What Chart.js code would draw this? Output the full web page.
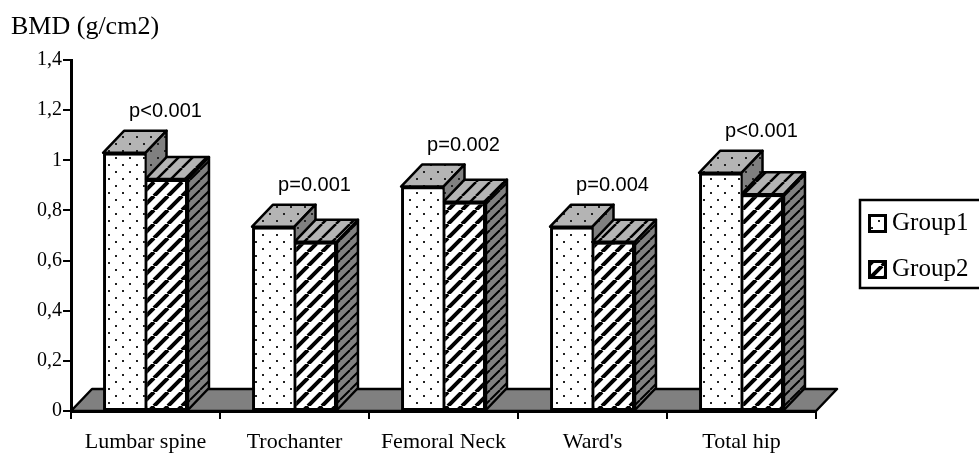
<!DOCTYPE html>
<html>
<head>
<meta charset="utf-8">
<script src="https://cdn.jsdelivr.net/npm/chart.js@4"></script>
<style>
  html, body { margin: 0; padding: 0; background: #fff; }
  canvas { display: block; }
</style>
</head>
<body>
<canvas id="chart" width="979" height="453"></canvas>
<script>
const categories = ["Lumbar spine", "Trochanter", "Femoral Neck", "Ward's", "Total hip"];
const group1 = [1.03, 0.735, 0.895, 0.735, 0.95];
const group2 = [0.925, 0.675, 0.835, 0.675, 0.865];
const pLabels = ["p<0.001", "p=0.001", "p=0.002", "p=0.004", "p<0.001"];
const yTickLabels = ["0", "0,2", "0,4", "0,6", "0,8", "1", "1,2", "1,4"];
const yAxisTitle = "BMD (g/cm2)";

const SERIF = "'Liberation Serif', 'Times New Roman', serif";
const SANS = "'Liberation Sans', Arial, sans-serif";
const DEPTH_X = 21;
const DEPTH_Y = 22;

// dotted tile
function dots(bg) {
  const c = document.createElement("canvas");
  c.width = c.height = 14;
  const g = c.getContext("2d");
  g.fillStyle = bg;
  g.fillRect(0, 0, 14, 14);
  g.fillStyle = "#222";
  g.fillRect(3, 3, 2, 2);
  g.fillRect(10, 10, 2, 2);
  return g.createPattern(c, "repeat");
}

// diagonal hatch tile
function hatch(bg, size, lw) {
  const c = document.createElement("canvas");
  c.width = c.height = size;
  const g = c.getContext("2d");
  g.fillStyle = bg;
  g.fillRect(0, 0, size, size);
  g.strokeStyle = "#000";
  g.lineWidth = lw;
  g.beginPath();
  for (let i = -size; i <= size; i += size) {
    g.moveTo(i, size);
    g.lineTo(i + size, 0);
  }
  g.stroke();
  return g.createPattern(c, "repeat");
}

const faces = [
  { top: dots("#b4b4b4"), side: dots("#808080") },
  { top: hatch("#b4b4b4", 14, 2.5), side: hatch("#808080", 10, 2) },
];

function polygon(ctx, pts, fill) {
  ctx.beginPath();
  pts.forEach((p, i) => (i ? ctx.lineTo(p[0], p[1]) : ctx.moveTo(p[0], p[1])));
  ctx.closePath();
  ctx.fillStyle = fill;
  ctx.fill();
  ctx.stroke();
}

const chart3d = {
  id: "chart3d",
  afterLayout(chart) {
    // legend sits in its own spot right of the plot
    const l = chart.legend;
    l.left = 848.5;
    l.right = 979;
    l.top = 190;
    l.bottom = 340;
  },
  beforeDatasetsDraw(chart) {
    const { ctx, chartArea: a } = chart;
    const y0 = chart.scales.y.getPixelForValue(0);
    ctx.save();
    ctx.strokeStyle = "#000";
    ctx.lineWidth = 2.5;
    ctx.lineJoin = "round";
    polygon(ctx, [
      [a.left, y0],
      [a.left + DEPTH_X, y0 - DEPTH_Y],
      [a.right + DEPTH_X, y0 - DEPTH_Y],
      [a.right, y0],
    ], "#808080");
    // tops and sides, left bar first so the right bar's top covers its side
    faces.forEach((f, d) => {
      chart.getDatasetMeta(d).data.forEach((bar) => {
        const l = bar.x - bar.width / 2;
        const r = bar.x + bar.width / 2;
        polygon(ctx, [
          [l, bar.y],
          [l + DEPTH_X, bar.y - DEPTH_Y],
          [r + DEPTH_X, bar.y - DEPTH_Y],
          [r, bar.y],
        ], f.top);
        polygon(ctx, [
          [r, bar.y],
          [r + DEPTH_X, bar.y - DEPTH_Y],
          [r + DEPTH_X, bar.base - DEPTH_Y],
          [r, bar.base],
        ], f.side);
      });
    });
    ctx.restore();
  },
  afterDraw(chart) {
    const { ctx } = chart;
    const meta = chart.getDatasetMeta(0);
    ctx.save();
    ctx.fillStyle = "#000";
    ctx.textAlign = "center";
    ctx.textBaseline = "middle";
    ctx.font = "20px " + SANS;
    pLabels.forEach((txt, i) => {
      const bar = meta.data[i];
      ctx.fillText(txt, bar.x + bar.width / 2 + 20, bar.y - DEPTH_Y - 19);
    });
    ctx.textAlign = "left";
    ctx.font = "26px " + SERIF;
    ctx.fillText(yAxisTitle, 11, 27);
    // legend frame and swatches
    ctx.strokeStyle = "#000";
    ctx.lineWidth = 2.5;
    ctx.strokeRect(860, 200, 125, 88);
    ctx.lineWidth = 3;
    chart.legend.legendHitBoxes.forEach((box, i) => {
      const y = box.top + box.height / 2 - 8;
      ctx.fillStyle = chart.data.datasets[i].backgroundColor;
      ctx.fillRect(869.5, y, 16, 16);
      ctx.strokeRect(869.5, y, 16, 16);
    });
    ctx.restore();
  },
};

new Chart(document.getElementById("chart"), {
  type: "bar",
  data: {
    labels: categories,
    datasets: [
      {
        label: "Group1",
        data: group1,
        backgroundColor: dots("#ffffff"),
        borderColor: "#000",
        borderWidth: { left: 3, right: 1, top: 3, bottom: 2 },
        borderSkipped: false,
      },
      {
        label: "Group2",
        data: group2,
        backgroundColor: hatch("#ffffff", 14, 4),
        borderColor: "#000",
        borderWidth: { left: 2, right: 3, top: 3, bottom: 2 },
        borderSkipped: false,
      },
    ],
  },
  options: {
    responsive: false,
    animation: false,
    layout: { padding: { top: 60, right: 163, left: 0, bottom: 0 } },
    plugins: {
      title: { display: false },
      tooltip: { enabled: false },
      legend: {
        position: "chartArea",
        align: "start",
        labels: {
          color: "#000",
          boxWidth: 10,
          boxHeight: 10,
          padding: 21,
          font: { family: SERIF, size: 25 },
          generateLabels(chart) {
            return chart.data.datasets.map((d, i) => ({
              text: d.label,
              fillStyle: "rgba(0,0,0,0)",
              strokeStyle: "rgba(0,0,0,0)",
              lineWidth: 0,
              datasetIndex: i,
            }));
          },
        },
      },
    },
    scales: {
      x: {
        offset: true,
        afterFit(scale) { scale.height = 42; },
        border: { color: "#000", width: 3 },
        grid: {
          drawOnChartArea: false,
          drawTicks: true,
          tickLength: 8,
          color: "#000",
          lineWidth: 2,
        },
        ticks: {
          color: "#000",
          padding: 10,
          maxRotation: 0,
          font: { family: SERIF, size: 22 },
        },
      },
      y: {
        min: 0,
        max: 1.4,
        afterFit(scale) { scale.width = 71; },
        border: { color: "#000", width: 3 },
        grid: {
          drawOnChartArea: false,
          drawTicks: true,
          tickLength: 8,
          color: "#000",
          lineWidth: 2,
        },
        ticks: {
          color: "#000",
          stepSize: 0.2,
          padding: 1,
          font: { family: SERIF, size: 20 },
          callback(value, index) { return yTickLabels[index]; },
        },
      },
    },
    datasets: { bar: { categoryPercentage: 0.57, barPercentage: 1 } },
  },
  plugins: [chart3d],
});
</script>
</body>
</html>
